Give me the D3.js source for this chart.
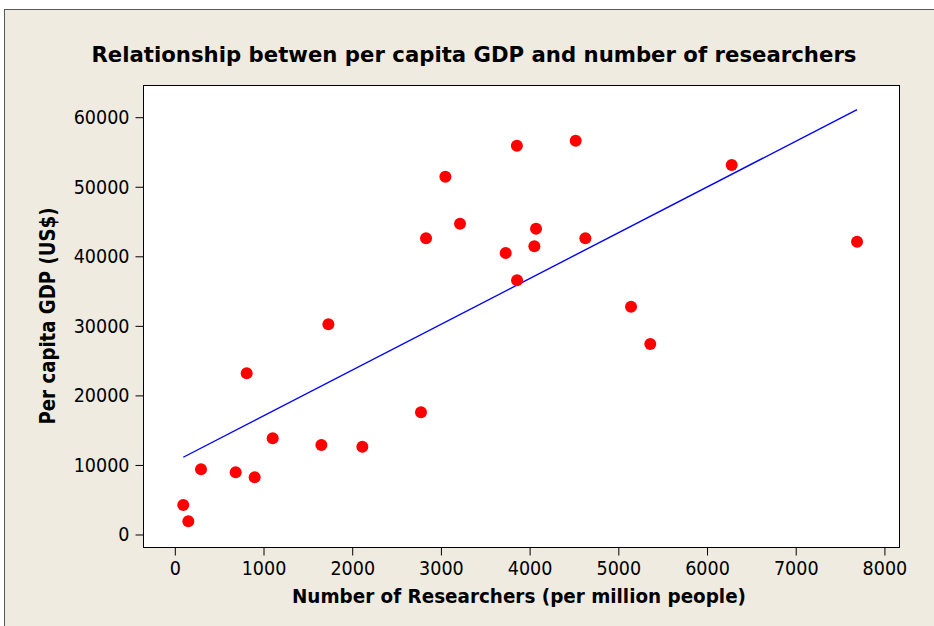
<!DOCTYPE html>
<html><head><meta charset="utf-8">
<script src="https://cdn.jsdelivr.net/npm/d3@7/dist/d3.min.js"></script>
<style>html,body{margin:0;padding:0;background:#fff;}</style>
</head><body>
<svg id="chart" width="934" height="626"></svg>
<script>
const researchers = [101, 158, 301, 692, 906, 816, 1109, 1658, 1737, 2120, 2781, 2838, 3056, 3221, 3736, 3862, 3864, 4059, 4078, 4525, 4634, 5149, 5366, 6284, 7697];
const gdp = [4170, 1820, 9300, 8870, 8150, 23100, 13760, 12800, 30150, 12550, 17500, 42510, 51370, 44620, 40400, 55830, 36480, 41370, 43900, 56550, 42510, 32680, 27320, 53060, 42030];
const fitIntercept = 10370;
const fitSlope = 6.58;
const xTicks = [0, 1000, 2000, 3000, 4000, 5000, 6000, 7000, 8000];
const yTicks = [0, 10000, 20000, 30000, 40000, 50000, 60000];
const titleText = "Relationship betwen per capita GDP and number of researchers";
const xLabel = "Number of Researchers (per million people)";
const yLabel = "Per capita GDP (US$)";

const svg = d3.select("#chart");
const W = 934, H = 626;
const plot = {l: 143, t: 85, r: 899, b: 547};

svg.append("rect").attr("x", 4.5).attr("y", 9.5).attr("width", W + 10).attr("height", H + 10)
  .attr("fill", "#EFEBE1").attr("stroke", "#5a5a5a").attr("stroke-width", 1);

svg.append("rect").attr("x", plot.l + 0.5).attr("y", plot.t + 0.5)
  .attr("width", plot.r - plot.l).attr("height", plot.b - plot.t)
  .attr("fill", "#fff").attr("stroke", "#000").attr("stroke-width", 1);

const x = d3.scaleLinear().domain([-353, 8170]).range([plot.l, plot.r]);
const y = d3.scaleLinear().domain([-1870, 64560]).range([plot.b, plot.t]);

const tickFont = "'DejaVu Sans Condensed', 'DejaVu Sans', Verdana, sans-serif";
const font = "'DejaVu Sans', Verdana, sans-serif";

const xAxis = svg.append("g").attr("transform", `translate(0.5,${plot.b + 0.5})`)
  .call(d3.axisBottom(x).tickValues(xTicks).tickSize(8).tickPadding(6).tickFormat(d3.format("d")));
const yAxis = svg.append("g").attr("transform", `translate(${plot.l + 0.5},0.5)`)
  .call(d3.axisLeft(y).tickValues(yTicks).tickSize(8).tickPadding(6).tickFormat(d3.format("d")));
[xAxis, yAxis].forEach(g => {
  g.select(".domain").remove();
  g.selectAll(".tick line").attr("stroke", "#000");
  g.selectAll(".tick text").attr("fill", "#000").style("font-family", tickFont)
    .style("font-stretch", "condensed").style("font-size", "19.5px");
});

// fitted line
const xmin = d3.min(researchers), xmax = d3.max(researchers);
svg.append("line")
  .attr("x1", x(xmin)).attr("y1", y(fitIntercept + fitSlope * xmin))
  .attr("x2", x(xmax)).attr("y2", y(fitIntercept + fitSlope * xmax))
  .attr("stroke", "#0000FF").attr("stroke-width", 1.4);

svg.append("g").selectAll("circle").data(researchers.map((r, i) => [r, gdp[i]]))
  .join("circle")
  .attr("cx", d => x(d[0])).attr("cy", d => y(d[1])).attr("r", 6)
  .attr("fill", "#FF0000");

function fitText(sel, len) {
  sel.attr("textLength", len).attr("lengthAdjust", "spacingAndGlyphs");
}

svg.append("text").attr("x", 474).attr("y", 62).attr("text-anchor", "middle")
  .style("font-family", font).style("font-weight", "bold").style("font-size", "21.5px")
  .text(titleText).call(fitText, 765);

svg.append("text").attr("x", 519).attr("y", 603).attr("text-anchor", "middle")
  .style("font-family", font).style("font-weight", "bold").style("font-size", "20px")
  .text(xLabel).call(fitText, 454);

svg.append("text").attr("transform", `translate(55,316) rotate(-90)`).attr("text-anchor", "middle")
  .style("font-family", font).style("font-weight", "bold").style("font-size", "20.5px")
  .text(yLabel).call(fitText, 217);
</script>
</body></html>
